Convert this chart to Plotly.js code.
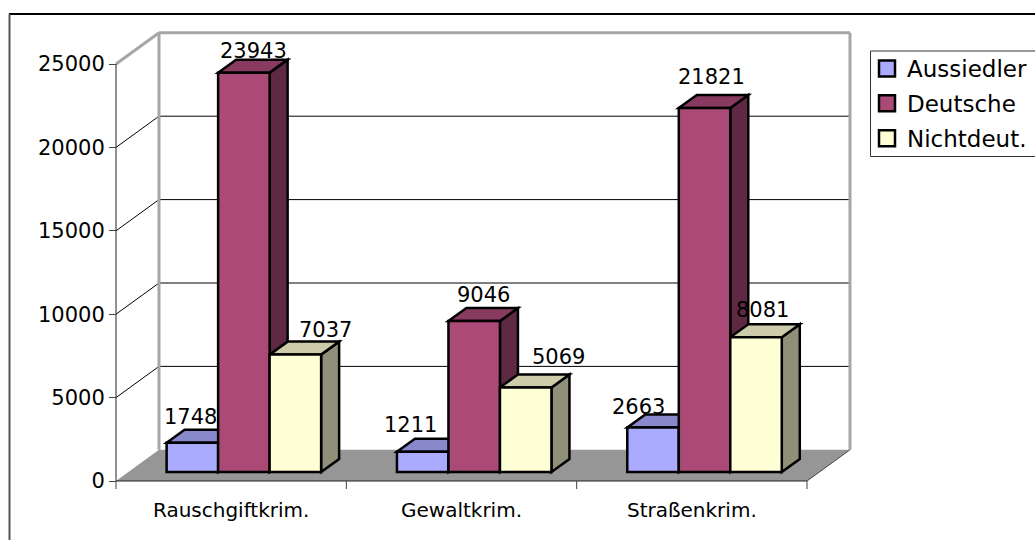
<!DOCTYPE html>
<html>
<head>
<meta charset="utf-8">
<script src="https://cdn.plot.ly/plotly-3.0.1.min.js"></script>
<style>html,body{margin:0;padding:0;background:#fff;overflow:hidden}</style>
</head>
<body>
<div id="chart" style="width:1035px;height:540px"></div>
<script>
const categories = ["Rauschgiftkrim.", "Gewaltkrim.", "Straßenkrim."];
const seriesNames = ["Aussiedler", "Deutsche", "Nichtdeut."];
const aussiedler = [1748, 1211, 2663];
const deutsche = [23943, 9046, 21821];
const nichtdeut = [7037, 5069, 8081];
const yTicks = [0, 5000, 10000, 15000, 20000, 25000];

const frontColors = ["#AAAAFF", "#AB4977", "#FFFFD5"];
const topColors = ["#8888CC", "#893A60", "#CCCCAA"];
const sideColors = ["#7F7FBF", "#5F2843", "#90907A"];
const labelShiftX = [[-11, 1, 21], [-21, 0, 24], [-24, -2, -3]];
const labelShiftY = [[-1, -5, -2], [0, -1, 3], [-6, 4, 0]];

const seriesValues = [aussiedler, deutsche, nichtdeut];
const FONT = '"DejaVu Sans", Verdana, sans-serif';

// plot box in page pixels, a little larger than the drawing so edge lines are not clipped
const box = {l: 108, r: 858, t: 26, b: 488};
const axisLeft = 116, axisBottom = 481;
const paperX = p => (p - box.l) / (box.r - box.l);
const paperY = p => (box.b - p) / (box.b - box.t);

// scale helpers: one category = 230.33px, 25000 = 417px
const pxX = 230.33, pxY = 417 / 25000;
const ux = p => p / pxX, uy = p => p / pxY;
const barW = ux(51.5);
const baseLift = uy(9), barShift = ux(12.7);
const depthX = ux(18), depthY = uy(13);
const wallX = ux(43), wallY = uy(31.2);
const xMin = -0.5, xMax = 2.5;
const xRange = [xMin - ux(axisLeft - box.l), xMin + ux(box.r - axisLeft)];
const yRange = [-uy(box.b - axisBottom), uy(axisBottom - box.t)];
const edge = 2.5;

const poly = (pts, fill, line, w) => ({
  type: "path", layer: "below", xref: "x", yref: "y",
  path: "M" + pts.map(p => p[0] + "," + p[1]).join(" L") + " Z",
  fillcolor: fill, line: {color: line, width: w}
});
const seg = (x0, y0, x1, y1, color, w) => ({
  type: "line", layer: "below", xref: "x", yref: "y", x0, y0, x1, y1,
  line: {color, width: w}
});

const shapes = [];
// floor
shapes.push(poly([[xMin, 0], [xMax, 0], [xMax + wallX, wallY], [xMin + wallX, wallY]], "#969696", "#969696", 0));
// grid on the wall
yTicks.slice(1, -1).forEach(t => {
  shapes.push(seg(xMin, t, xMin + wallX, t + wallY, "#000", 1));
  shapes.push(seg(xMin + wallX, t + wallY, xMax + wallX, t + wallY, "#000", 1));
});
// wall outline
const yTop = 25000;
shapes.push(seg(xMin, yTop, xMin + wallX, yTop + wallY, "#A6A6A6", 3));
shapes.push(seg(xMin + wallX, yTop + wallY, xMax + wallX, yTop + wallY, "#A6A6A6", 3));
shapes.push(seg(xMin + wallX, yTop + wallY, xMin + wallX, wallY, "#A6A6A6", 3));
shapes.push(seg(xMax + wallX, yTop + wallY, xMax + wallX, wallY, "#A6A6A6", 3));
// axes
shapes.push(seg(xMin, 0, xMin, yTop, "#222", 1));
shapes.push(seg(xMin, 0, xMax, 0, "#222", 1));
shapes.push(seg(xMax, 0, xMax + wallX, wallY, "#444", 1));
[-0.5, 0.5, 1.5, 2.5].forEach(t => {
  shapes.push({type: "line", layer: "above", xref: "x", yref: "paper",
    x0: t, x1: t, y0: paperY(axisBottom), y1: paperY(axisBottom + 8), line: {color: "#444", width: 1}});
});
// top and side faces of each bar, computed from the values
const annotations = [];
categories.forEach((c, ci) => {
  seriesValues.forEach((vals, si) => {
    const cx = ci + barShift + (si - 1) * barW;
    const l = cx - barW / 2, r = cx + barW / 2;
    const b = baseLift, t = baseLift + vals[ci];
    shapes.push(poly([[r, b], [r + depthX, b + depthY], [r + depthX, t + depthY], [r, t]], sideColors[si], "#000", edge));
    shapes.push(poly([[l, t], [r, t], [r + depthX, t + depthY], [l + depthX, t + depthY]], topColors[si], "#000", edge));
    annotations.push({
      x: cx + depthX / 2, y: t + depthY, xref: "x", yref: "y",
      text: String(vals[ci]), showarrow: false, yanchor: "bottom",
      xshift: labelShiftX[ci][si], yshift: labelShiftY[ci][si],
      font: {family: FONT, size: 21, color: "#000"}
    });
  });
});
// chart frame
shapes.push({type: "line", xref: "paper", yref: "paper", layer: "above",
  x0: paperX(9), x1: paperX(1040), y0: paperY(14), y1: paperY(14), line: {color: "#000", width: 2}});
shapes.push({type: "line", xref: "paper", yref: "paper", layer: "above",
  x0: paperX(9.5), x1: paperX(9.5), y0: paperY(14), y1: paperY(545), line: {color: "#555", width: 2}});
// legend box
shapes.push({type: "rect", xref: "paper", yref: "paper", layer: "above",
  x0: paperX(870.5), x1: paperX(1045), y0: paperY(51), y1: paperY(156.5),
  fillcolor: "#fff", line: {color: "#333", width: 1}});

const traces = seriesNames.map((n, si) => ({
  type: "bar", name: n, showlegend: false,
  x: categories.map((c, ci) => ci + barShift),
  y: seriesValues[si],
  base: categories.map(() => baseLift),
  marker: {color: frontColors[si], line: {color: "#000", width: edge}},
  hoverinfo: "name+y"
}));
seriesNames.forEach((n, si) => traces.push({
  type: "scatter", mode: "markers", name: n, x: [null], y: [null], legendgroup: n,
  marker: {symbol: "square", size: 16, color: frontColors[si], line: {color: "#000", width: 2.5}},
  hoverinfo: "skip"
}));

const layout = {
  width: 1035, height: 540, autosize: false,
  margin: {l: box.l, r: 1035 - box.r, t: box.t, b: 540 - box.b, pad: 0, autoexpand: false},
  paper_bgcolor: "#fff", plot_bgcolor: "rgba(0,0,0,0)",
  barmode: "group", bargap: 1 - 3 * barW, bargroupgap: 0,
  showlegend: true,
  legend: {x: paperX(867), xanchor: "left", y: paperY(47), yanchor: "top",
    bgcolor: "rgba(0,0,0,0)", borderwidth: 0, itemsizing: "trace",
    tracegroupgap: 2, font: {family: FONT, size: 23, color: "#000"}},
  xaxis: {type: "linear", range: xRange, tickmode: "array", anchor: "free", position: paperY(axisBottom),
    tickvals: categories.map((c, i) => i), ticktext: categories, ticks: "outside",
    ticklen: 11, tickcolor: "rgba(0,0,0,0)", showgrid: false, zeroline: false, showline: false,
    tickfont: {family: FONT, size: 20, color: "#000"}},
  yaxis: {range: yRange, tickmode: "array", tickvals: yTicks, anchor: "free", position: paperX(axisLeft),
    ticktext: yTicks.map(String), ticks: "outside", ticklen: 7, tickcolor: "#444",
    showgrid: false, zeroline: false, showline: false,
    tickfont: {family: FONT, size: 21, color: "#000"}},
  shapes, annotations
};
Plotly.newPlot("chart", traces, layout, {displayModeBar: false, staticPlot: true});
</script>
</body>
</html>
